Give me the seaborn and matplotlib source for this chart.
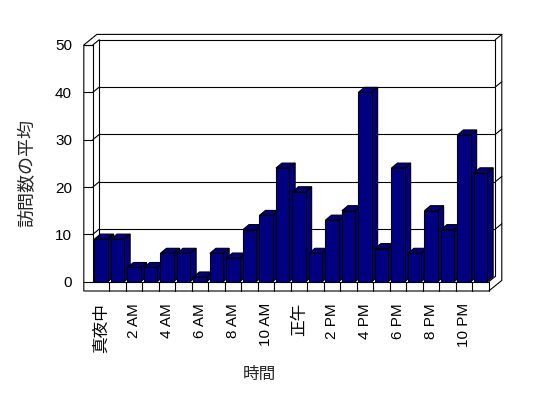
import numpy as np
import pandas as pd
import matplotlib
matplotlib.use("Agg")
import matplotlib.pyplot as plt
import seaborn as sns
from matplotlib.patches import Polygon
from matplotlib.lines import Line2D
from matplotlib.transforms import IdentityTransform

# ---- data ----
hours = list(range(24))
visits = [9, 9, 3, 3, 6, 6, 1, 6, 5, 11, 14, 24, 19, 6, 13, 15, 40, 7, 24, 6, 15, 11, 31, 23]
tick_positions = list(range(0, 24, 2))
tick_labels = ["真夜中", "2 AM", "4 AM", "6 AM", "8 AM", "10 AM", "正午",
               "2 PM", "4 PM", "6 PM", "8 PM", "10 PM"]
y_ticks = [0, 10, 20, 30, 40, 50]
x_title = "時間"
y_title = "訪問数の平均"

sns.set_theme(style="white")
plt.rcParams['font.family'] = ['Liberation Sans', 'Noto Sans CJK JP']

W, H = 548, 398
fig = plt.figure(figsize=(W / 100, H / 100), dpi=100)
fig.patch.set_facecolor("white")

# front plane of the plot area, in pixels from top-left
L, R, T, B = 92.8, 488.8, 45.0, 281.7
ax = fig.add_axes([L / W, 1 - B / H, (R - L) / W, (B - T) / H])

df = pd.DataFrame({"hour": hours, "visits": visits})
sns.barplot(data=df, x="hour", y="visits", color="#000080", saturation=1,
            width=0.8, edgecolor="black", linewidth=0.8, ax=ax, errorbar=None)
bars = list(ax.patches)

ax.set_xlim(-0.5, 23.5)
ax.set_ylim(0, 50)
ax.patch.set_visible(False)
for s in ax.spines.values():
    s.set_visible(False)
ax.set_xlabel("")
ax.set_ylabel("")

ax.set_yticks(y_ticks)
ax.set_yticklabels([str(v) for v in y_ticks])
ax.tick_params(axis="y", length=0, pad=15, labelsize=11, colors="black")
ax.set_xticks(tick_positions)
ax.set_xticklabels(tick_labels, rotation=90, va="top", ha="center")
ax.tick_params(axis="x", length=0, pad=15.3, labelsize=11, colors="black")
for lab in ax.get_xticklabels():
    if not lab.get_text()[0].isdigit():
        lab.set_fontsize(12)

ID = IdentityTransform()

def P(x, y, dx=0.0, dy=0.0):
    p = ax.transData.transform((x, y))
    return (p[0] + dx, p[1] + dy)

sx, sy = 6.5, 5.3     # depth step (frame)
bsx, bsy = 6.0, 5.0   # bar depth
tw, tf = 9.0, 9.3     # wall / floor thickness
xl, xr = -0.5, 23.5
lw = 0.8

def line(p1, p2, z=1):
    ax.add_line(Line2D([p1[0], p2[0]], [p1[1], p2[1]], transform=ID,
                       color="black", lw=lw, zorder=z, clip_on=False))

# silhouette of walls + floor
sil = [P(xl, 0, -tw, -tf), P(xl, 50, -tw, 0), P(xl, 50, -tw + 2 * sx, 2 * sy),
       P(xr, 50, 2 * sx, 2 * sy), P(xr, 0, 2 * sx, -tf + 2 * sy), P(xr, 0, 0, -tf)]
ax.add_patch(Polygon(sil, closed=True, transform=ID, facecolor="white",
                     edgecolor="black", lw=lw, zorder=0.5, clip_on=False))

line(P(xl, 50, -tw, 0), P(xl, 50))
line(P(xl, 50), P(xl, 0))
line(P(xl, 50), P(xl, 50, sx, sy))
line(P(xl, 50, sx, sy), P(xr, 50, sx, sy))
line(P(xr, 50, sx, sy), P(xr, 0, sx, sy))
line(P(xr, 50, sx, sy), P(xr, 50, 2 * sx, 2 * sy))
line(P(xl, 50, sx, sy), P(xl, 0, sx, sy))
line(P(xl, 0), P(xr, 0))
line(P(xr, 0), P(xr, 0, sx, sy))
line(P(xr, 0), P(xr, 0, 0, -tf))
for k in range(1, 24):
    line(P(k - 0.5, 0), P(k - 0.5, 0, 0, -tf))
for v in y_ticks:
    line(P(xl, v, -tw, 0), P(xl, v))
    if 0 < v < 50:
        line(P(xl, v, sx, sy), P(xr, v, sx, sy))
        line(P(xl, v), P(xl, v, sx, sy))
        line(P(xr, v, sx, sy), P(xr, v, 2 * sx, 2 * sy))

# 3D bar tops and sides
for i, b in enumerate(bars):
    x0, w, h = b.get_x(), b.get_width(), b.get_height()
    z = 3 + i * 0.01
    b.set_zorder(z)
    top = [P(x0, h), P(x0 + w, h), P(x0 + w, h, bsx, bsy), P(x0, h, bsx, bsy)]
    side = [P(x0 + w, 0), P(x0 + w, h), P(x0 + w, h, bsx, bsy), P(x0 + w, 0, bsx, bsy)]
    for poly in (side, top):
        ax.add_patch(Polygon(poly, closed=True, transform=ID, facecolor="#000080",
                             edgecolor="black", lw=lw, zorder=z - 0.005, clip_on=False))

fig.text(259.5 / W, 1 - 374.5 / H, x_title, ha="center", va="center", fontsize=12)
fig.text(28.3 / W, 1 - 173 / H, y_title, ha="center", va="center", rotation=90, fontsize=13)

fig.savefig("out.png", dpi=100, facecolor="white")
